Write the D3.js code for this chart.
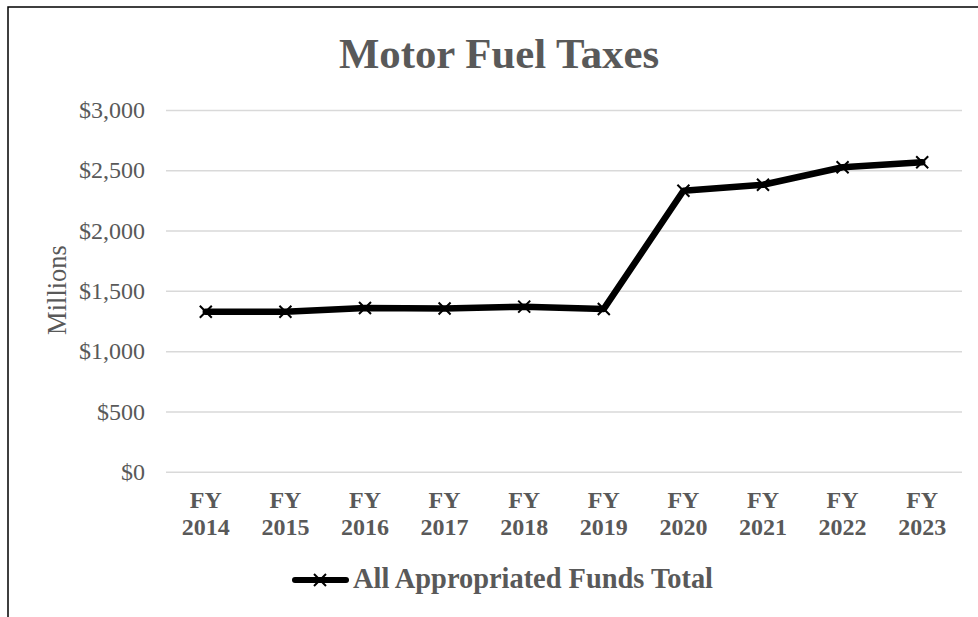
<!DOCTYPE html>
<html>
<head>
<meta charset="utf-8">
<script src="https://cdn.jsdelivr.net/npm/d3@7"></script>
<style>
  html, body { margin: 0; padding: 0; background: #fff; }
  svg { display: block; }
  text { font-family: "Liberation Serif", "Times New Roman", serif; }
</style>
</head>
<body>
<svg id="chart" width="978" height="617"></svg>
<script>
const categories = ["FY 2014", "FY 2015", "FY 2016", "FY 2017", "FY 2018", "FY 2019", "FY 2020", "FY 2021", "FY 2022", "FY 2023"];
const values = [1327, 1327, 1358, 1354, 1369, 1350, 2330, 2380, 2525, 2566];
const yTicks = [0, 500, 1000, 1500, 2000, 2500, 3000];
const seriesName = "All Appropriated Funds Total";
const title = "Motor Fuel Taxes";
const yTitle = "Millions";

const svg = d3.select("#chart");
const textColor = "#595959";

// frame
svg.append("rect").attr("x", 8).attr("y", 7).attr("width", 1000).attr("height", 700)
  .attr("fill", "none").attr("stroke", "#000").attr("stroke-width", 1.5);

const plot = { left: 166, right: 962, top: 110, bottom: 471.7 };

const x = d3.scaleBand().domain(categories).range([plot.left, plot.right]);
const y = d3.scaleLinear().domain([0, 3000]).range([plot.bottom, plot.top]);

// gridlines
const yAxis = d3.axisLeft(y).tickValues(yTicks).tickSize(-(plot.right - plot.left)).tickPadding(21)
  .tickFormat(d => "$" + d3.format(",")(d));
const gy = svg.append("g").attr("transform", `translate(${plot.left},0)`).call(yAxis);
gy.select(".domain").remove();
gy.selectAll(".tick line").attr("stroke", "#d9d9d9").attr("stroke-width", 1.5);
gy.selectAll(".tick text").attr("fill", textColor).attr("font-size", 24)
  .attr("font-family", '"Liberation Serif", "Times New Roman", serif');

// x axis labels
const xAxis = d3.axisBottom(x).tickSize(0).tickPadding(0);
const gx = svg.append("g").attr("transform", `translate(0,${plot.bottom})`).call(xAxis);
gx.select(".domain").remove();
gx.selectAll(".tick text").each(function(d) {
  const t = d3.select(this);
  const parts = d.split(" ");
  t.text(null).attr("fill", textColor).attr("font-size", 24).attr("font-weight", "bold")
    .attr("font-family", '"Liberation Serif", "Times New Roman", serif')
    .attr("y", 0).attr("dy", null).attr("text-anchor", "middle");
  t.append("tspan").attr("x", 0).attr("y", 36).text(parts[0]);
  t.append("tspan").attr("x", 0).attr("y", 63).text(parts[1]);
});

// line
const line = d3.line().x((d, i) => x(categories[i]) + x.bandwidth() / 2).y(d => y(d));
svg.append("path").datum(values).attr("d", line).attr("fill", "none")
  .attr("stroke", "#000").attr("stroke-width", 6.5).attr("stroke-linejoin", "round").attr("stroke-linecap", "round");

// markers
const m = 6;
const markers = svg.append("g").selectAll("g").data(values).join("g")
  .attr("transform", (d, i) => `translate(${x(categories[i]) + x.bandwidth() / 2},${y(d)})`);
markers.append("path").attr("d", `M${-m},${-m}L${m},${m}M${-m},${m}L${m},${-m}`)
  .attr("stroke", "#000").attr("stroke-width", 2);

// title
svg.append("text").attr("x", 499).attr("y", 68).attr("text-anchor", "middle")
  .attr("font-size", 42.8).attr("font-weight", "bold").attr("fill", textColor).text(title);

// y title
svg.append("text").attr("transform", "translate(66,290) rotate(-90)").attr("text-anchor", "middle")
  .attr("font-size", 26.5).attr("fill", textColor).text(yTitle);

// legend
const lg = svg.append("g");
lg.append("line").attr("x1", 295).attr("x2", 346).attr("y1", 580).attr("y2", 580)
  .attr("stroke", "#000").attr("stroke-width", 6).attr("stroke-linecap", "round");
lg.append("path").attr("transform", "translate(320,580)")
  .attr("d", `M${-m},${-m}L${m},${m}M${-m},${m}L${m},${-m}`).attr("stroke", "#000").attr("stroke-width", 2);
lg.append("text").attr("x", 353).attr("y", 588).attr("font-size", 28.4).attr("font-weight", "bold")
  .attr("fill", textColor).text(seriesName);
</script>
</body>
</html>
